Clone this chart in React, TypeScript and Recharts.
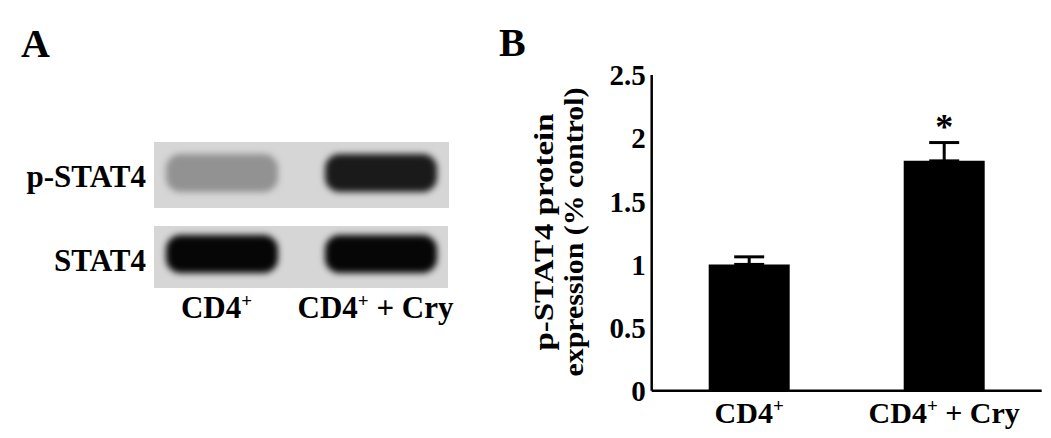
import React from 'react';
import { BarChart, Bar, XAxis, YAxis, ErrorBar, LabelList } from 'recharts';

// ---- Panel B data ----
const groups = ['CD4+', 'CD4+ + Cry'];
const expression = [1.0, 1.82];
const sem = [0.06, 0.145];
const significance = ['', '*'];
const yTicks = [0, 0.5, 1, 1.5, 2, 2.5];
const yTickLabels = ['0', '0.5', '1', '1.5', '2', '2.5'];
const yTitleLines = ['p-STAT4 protein', 'expression (% control)'];

// ---- Panel A (western blot) data ----
const lanes = ['CD4+', 'CD4+ + Cry'];
const blotRows = ['p-STAT4', 'STAT4'];
const pSTAT4Density = [0.32, 0.88];
const STAT4Density = [0.97, 0.97];

const SERIF = "'Liberation Serif', 'Times New Roman', Times, serif";

const chartData = groups.map((g, i) => ({
  group: g,
  value: expression[i],
  err: [0, sem[i]],
  sig: significance[i],
}));

function CD4Text({ x, y, text, fontSize, supSize, supShift }: any) {
  const rest = text.slice(4);
  return (
    <text
      x={x}
      y={y}
      textAnchor="middle"
      fontFamily={SERIF}
      fontWeight="bold"
      fontSize={fontSize}
      fill="#000"
      xmlSpace="preserve"
    >
      <tspan>CD4</tspan>
      <tspan dy={-supShift} fontSize={supSize}>+</tspan>
      {rest ? <tspan dy={supShift}>{rest}</tspan> : null}
    </text>
  );
}

const XTick = (props: any) => {
  const { x, y, payload } = props;
  return <CD4Text x={x} y={y + 32} text={payload.value} fontSize={30} supSize={19} supShift={11} />;
};

const LaneTick = (props: any) => {
  const { x, y, payload } = props;
  return <CD4Text x={x - 5} y={y + 45} text={payload.value} fontSize={31} supSize={19} supShift={11} />;
};

const YTitle = () => (
  <g>
    <text
      transform="translate(53,192) rotate(-90)"
      textAnchor="middle"
      fontFamily={SERIF}
      fontWeight="bold"
      fontSize={27}
      fill="#000"
      textLength={237}
      lengthAdjust="spacingAndGlyphs"
    >
      {yTitleLines[0]}
    </text>
    <text
      transform="translate(83,192) rotate(-90)"
      textAnchor="middle"
      fontFamily={SERIF}
      fontWeight="bold"
      fontSize={27}
      fill="#000"
      textLength={289}
      lengthAdjust="spacingAndGlyphs"
    >
      {yTitleLines[1]}
    </text>
  </g>
);

const SigLabel = (props: any) => {
  const { x, y, width, value } = props;
  if (!value) return null;
  return (
    <text
      x={x + width / 2}
      y={y - 22}
      textAnchor="middle"
      fontFamily={SERIF}
      fontWeight="bold"
      fontSize={36}
      fill="#000"
    >
      {value}
    </text>
  );
};

const bandGray = (d: number) => {
  const g = Math.round(214 * (1 - d));
  return `rgb(${g},${g},${g})`;
};

const BandShape = (props: any) => {
  const { x, y, width, height, payload } = props;
  return (
    <rect
      x={x}
      y={y}
      width={width}
      height={height}
      rx={height / 2.6}
      ry={height / 2.6}
      fill={bandGray(payload.density)}
      style={{ filter: 'blur(3px)' }}
    />
  );
};

function BlotRow({ densities, left, top, height, marginTop, marginBottom, showLanes }: any) {
  const data = lanes.map((l, i) => ({ lane: l, band: 1, density: densities[i] }));
  return (
    <div style={{ position: 'absolute', left, top }}>
      <BarChart
        width={318}
        height={height}
        data={data}
        margin={{ top: marginTop, bottom: showLanes ? 0 : marginBottom, left: 0, right: 0 }}
        barCategoryGap={0}
      >
        <XAxis
          dataKey="lane"
          hide={!showLanes}
          axisLine={false}
          tickLine={false}
          tickSize={0}
          tickMargin={0}
          height={showLanes ? marginBottom : 0}
          interval={0}
          tick={<LaneTick />}
        />
        <YAxis hide domain={[0, 1]} />
        <Bar dataKey="band" barSize={112} isAnimationActive={false} shape={<BandShape />} />
      </BarChart>
    </div>
  );
}

export default function App() {
  return (
    <div style={{ position: 'absolute', left: 0, top: 0, width: 1051, height: 438, background: '#fff', overflow: 'hidden' }}>
      <svg width={1051} height={438} style={{ position: 'absolute', left: 0, top: 0 }}>
        <text x={21} y={57} fontFamily={SERIF} fontWeight="bold" fontSize={40} fill="#000">A</text>
        <text x={499} y={56} fontFamily={SERIF} fontWeight="bold" fontSize={40} fill="#000">B</text>
        <rect x={154} y={142} width={295} height={66} fill="#d6d6d6" />
        <rect x={154} y={226} width={294} height={62} fill="#d6d6d6" />
        <text x={146} y={187} textAnchor="end" fontFamily={SERIF} fontWeight="bold" fontSize={31} fill="#000">{blotRows[0]}</text>
        <text x={146} y={271} textAnchor="end" fontFamily={SERIF} fontWeight="bold" fontSize={31} fill="#000">{blotRows[1]}</text>
      </svg>

      <BlotRow densities={pSTAT4Density} left={142} top={142} height={66} marginTop={12} marginBottom={16} showLanes={false} />
      <BlotRow densities={STAT4Density} left={142} top={226} height={100} marginTop={9} marginBottom={53} showLanes={true} />

      <div style={{ position: 'absolute', left: 500, top: 40 }}>
        <BarChart
          width={551}
          height={398}
          data={chartData}
          margin={{ top: 35, right: 9.3, bottom: 7.3, left: 81.7 }}
        >
          <XAxis
            dataKey="group"
            axisLine={false}
            tickLine={false}
            tickSize={0}
            tickMargin={0}
            height={40}
            interval={0}
            tick={<XTick />}
          />
          <XAxis
            xAxisId="frame"
            type="number"
            domain={[0, 2]}
            allowDataOverflow
            ticks={[1, 2]}
            interval={0}
            mirror
            tick={false}
            tickSize={8}
            axisLine={{ stroke: '#000', strokeWidth: 2.5 }}
            tickLine={{ stroke: '#000', strokeWidth: 2 }}
          />
          <YAxis
            domain={[0, 2.5]}
            ticks={yTicks}
            interval={0}
            width={70}
            axisLine={false}
            tickLine={false}
            tickSize={0}
            tickMargin={6}
            tickFormatter={(v: number) => yTickLabels[yTicks.indexOf(v)]}
            tick={{ fill: '#000', fontSize: 29, fontWeight: 'bold', fontFamily: SERIF }}
            label={{ content: <YTitle /> }}
          />
          <YAxis
            yAxisId="frame"
            domain={[0, 2.5]}
            allowDataOverflow
            ticks={yTicks}
            interval={0}
            mirror
            tick={false}
            tickSize={8}
            axisLine={{ stroke: '#000', strokeWidth: 2.5 }}
            tickLine={{ stroke: '#000', strokeWidth: 2 }}
          />
          <Bar dataKey="value" fill="#000" barSize={81} isAnimationActive={false}>
            <ErrorBar dataKey="err" direction="y" width={15} stroke="#000" strokeWidth={3} isAnimationActive={false} />
            <LabelList dataKey="sig" content={<SigLabel />} />
          </Bar>
        </BarChart>
      </div>
    </div>
  );
}
